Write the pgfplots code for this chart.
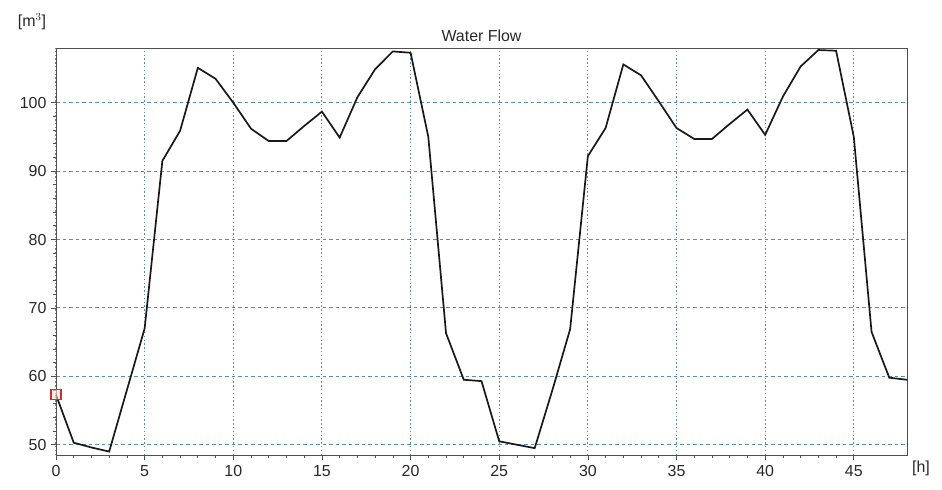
\documentclass[border=0pt]{standalone}
\usepackage{fontspec}
\setmainfont{Liberation Sans}
\usepackage{pgfplots}
\pgfplotsset{compat=1.18}

\definecolor{gridblue}{RGB}{85,140,195}
\definecolor{framegray}{RGB}{80,80,80}
\definecolor{markred}{RGB}{200,50,50}
\definecolor{markfill}{RGB}{250,225,215}
\definecolor{txt}{RGB}{40,40,40}

\begin{document}
\begin{tikzpicture}[font=\fontsize{16}{19}\selectfont]
\begin{axis}[
    at={(56bp,35bp)}, anchor=south west,
    scale only axis,
    width=851bp, height=407bp,
    xmin=0, xmax=48,
    ymin=48.5, ymax=108,
    xtick={0,5,...,45},
    ytick={50,60,...,100},
    minor x tick num=4,
    minor y tick num=4,
    tick pos=left,
    tick align=outside,
    major tick length=5bp,
    minor tick length=3bp,
    tick style={framegray, line width=0.7bp},
    axis line style={framegray, line width=0.9bp},
    grid=major,
    x grid style={gridblue, line width=1.1bp, dash pattern=on 1.4bp off 2.4bp},
    y grid style={gridblue, line width=1bp, dash pattern=on 3.5bp off 3bp},
    /pgf/number format/assume math mode=true,
    ticklabel style={text=txt},
    xticklabel style={yshift=-2bp},
    yticklabel style={xshift=-1bp},
    title={Water Flow},
    title style={yshift=-3bp, text=txt},
    clip=false,
]
% hourly water flow [m^3]
\addplot[black!90, line width=1.7bp] coordinates {
    (0,57.3) (1,50.3) (2,49.6) (3,49.0) (4,58.0) (5,67.0)
    (6,91.5) (7,95.9) (8,105.1) (9,103.5) (10,100.0) (11,96.2)
    (12,94.4) (13,94.4) (14,96.6) (15,98.7) (16,94.9) (17,100.8)
    (18,104.9) (19,107.5) (20,107.3) (21,95.0) (22,66.3) (23,59.5)
    (24,59.3) (25,50.5) (26,50.0) (27,49.5) (28,58.0) (29,66.9)
    (30,92.2) (31,96.3) (32,105.6) (33,104.0) (34,100.2) (35,96.3)
    (36,94.7) (37,94.7) (38,96.9) (39,99.0) (40,95.3) (41,100.9)
    (42,105.3) (43,107.7) (44,107.6) (45,95.0) (46,66.5) (47,59.8)
    (48,59.5)
};
% start marker
\addplot[only marks, mark=square*, mark size=5bp, draw=markred, fill=markfill,
    mark options={draw=markred, fill=markfill, line width=1.1bp, fill opacity=0.6}] coordinates {
    (0,57.3)
};
\end{axis}
\node[anchor=center, text=txt] at (921bp,22bp) {[h]};
\node[anchor=center, text=txt] at (32bp,468bp) {[m$^3$]};
\pgfresetboundingbox
\path (0,0) rectangle (942bp,490bp);
\end{tikzpicture}
\end{document}
